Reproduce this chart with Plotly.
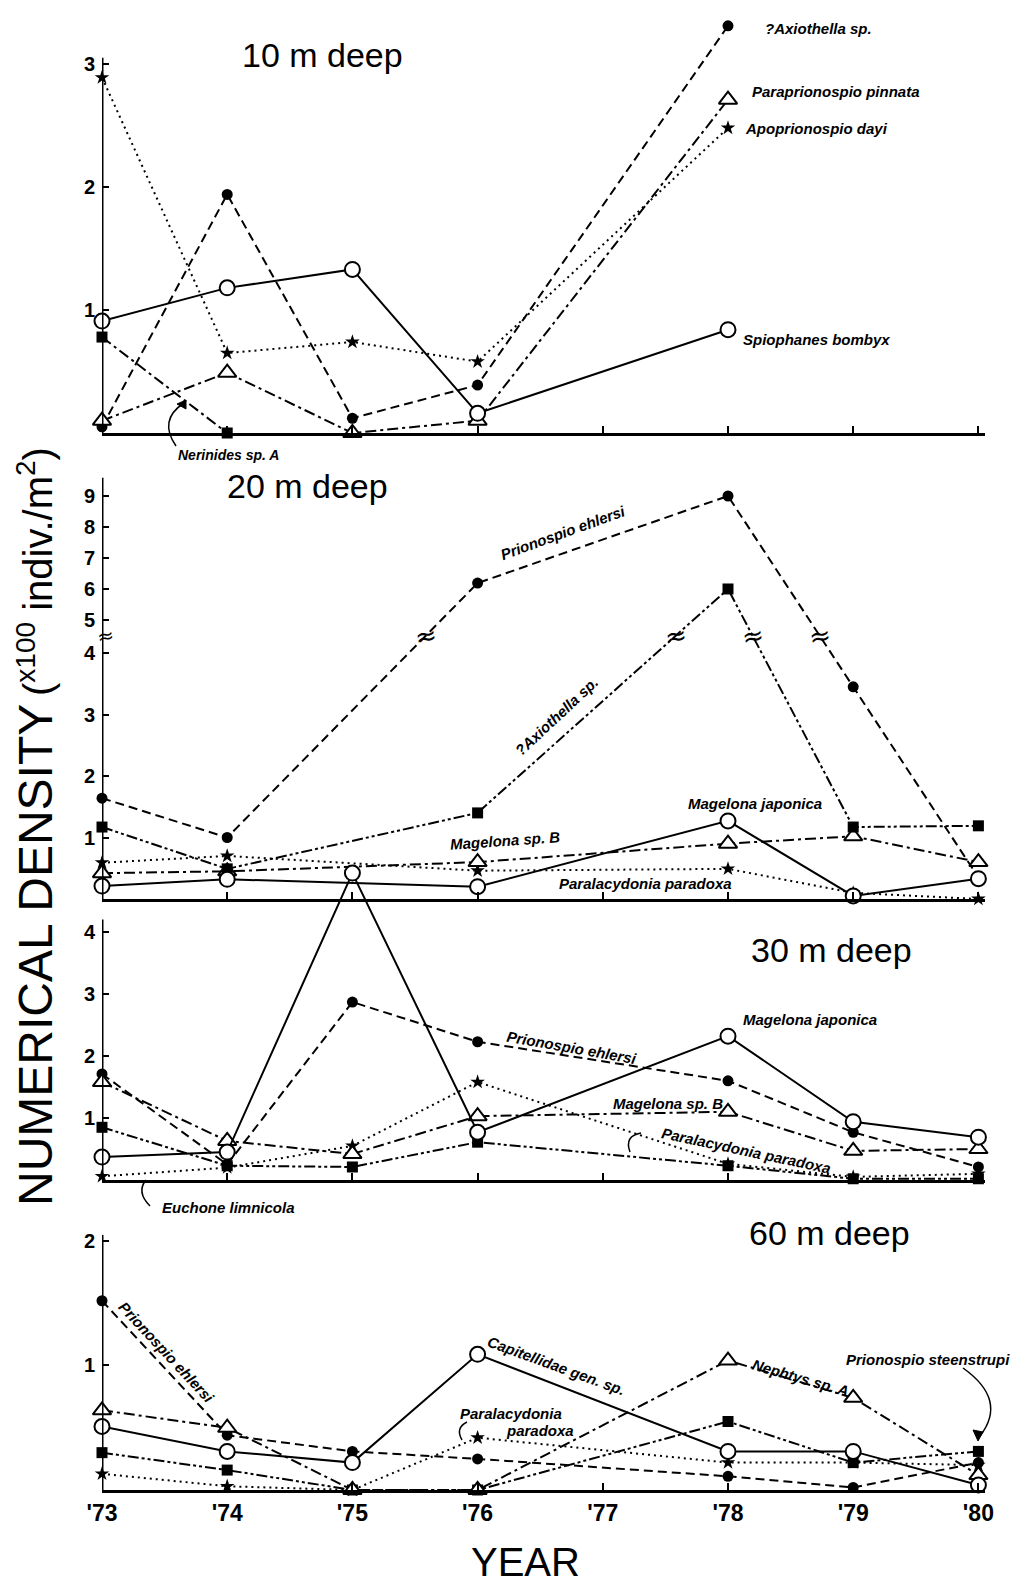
import plotly.graph_objects as go

W, H = 1025, 1584
OFF = 8  # default page body margin of the written html

# ---------------- data (x100 indiv./m2) ----------------
year_ticks = [73, 74, 75, 76, 77, 78, 79, 80]
year_labels = ["'73", "'74", "'75", "'76", "'77", "'78", "'79", "'80"]

# 10 m deep
years_10 = [73, 74, 75, 76, 78]
spiophanes_10 = [0.91, 1.18, 1.33, 0.16, 0.84]
axiothella_10 = [0.05, 1.94, 0.12, 0.39, 3.31]
apoprionospio_10 = [2.89, 0.65, 0.74, 0.58, 2.48]
paraprionospio_10 = [0.10, 0.49, 0.0, 0.10, 2.71]
years_nerinides_10 = [73, 74]
nerinides_10 = [0.78, 0.0]

# 20 m deep
years_20 = [73, 74, 76, 78, 79, 80]
prionospio_20 = [1.64, 1.00, 6.19, 9.0, 3.45, 0.35]
axiothella_20 = [1.17, 0.49, 1.40, 6.0, 1.17, 1.19]
paralacydonia_20 = [0.59, 0.70, 0.46, 0.49, 0.10, 0.0]
magelona_jap_20 = [0.21, 0.32, 0.20, 1.27, 0.05, 0.33]
magelona_b_20 = [0.42, 0.45, 0.60, 0.90, 1.02, 0.60]

# 30 m deep
years_30 = [73, 74, 75, 76, 78, 79, 80]
prionospio_30 = [1.71, 0.25, 2.87, 2.23, 1.60, 0.77, 0.21]
magelona_jap_30 = [0.37, 0.45, 4.95, 0.77, 2.32, 0.94, 0.69]
magelona_b_30 = [1.58, 0.63, 0.42, 1.03, 1.10, 0.47, 0.50]
paralacydonia_30 = [0.06, 0.20, 0.55, 1.58, 0.26, 0.05, 0.10]
euchone_30 = [0.85, 0.23, 0.21, 0.61, 0.23, 0.02, 0.02]

# 60 m deep
years_60 = [73, 74, 75, 76, 78, 79, 80]
prionospio_60 = [1.52, 0.44, 0.31, 0.25, 0.11, 0.02, 0.22]
capitellidae_60 = [0.51, 0.31, 0.22, 1.09, 0.31, 0.31, 0.04]
nephtys_60 = [0.64, 0.50, 0.0, 0.0, 1.04, 0.74, 0.12]
steenstrupi_60 = [0.30, 0.16, 0.0, 0.0, 0.55, 0.22, 0.31]
paralacydonia_60 = [0.13, 0.03, 0.0, 0.42, 0.22, 0.22, 0.20]

ticks_10 = [1, 2, 3]
ticks_20 = [1, 2, 3, 4, 5, 6, 7, 8, 9]
ticks_30 = [1, 2, 3, 4]
ticks_60 = [1, 2]

# ---------------- broken axis for 20 m ----------------
BREAK_T = 4.28


def t20(v):
    return v if v <= 4.5 else 4.537 + 0.504 * (v - 5)


# ---------------- geometry helpers (screen pixels) ----------------
X0_PX, X1_PX, YEAR_PX = 102, 985, 125.2
x_range = [73, 73 + (X1_PX - X0_PX) / YEAR_PX]


def ydomain(zero_px, unit_px, vmax):
    z = zero_px - OFF
    return [1 - z / H, 1 - (z - vmax * unit_px) / H]


panels = {
    1: dict(zero=433, unit=123.0, vmax=3.45, axtop=3.05),
    2: dict(zero=899, unit=61.5, vmax=6.9, axtop=6.85),
    3: dict(zero=1180, unit=62.0, vmax=5.15, axtop=4.2),
    4: dict(zero=1490, unit=124.5, vmax=2.05, axtop=2.05),
}


def px(x, y):
    return (x - OFF) / W, 1 - (y - OFF) / H


MK = {
    'ocircle': dict(symbol='circle', size=15, color='white', line=dict(color='black', width=2)),
    'fcircle': dict(symbol='circle', size=11, color='black', line=dict(color='black', width=0)),
    'star': dict(symbol='star', size=11, color='black', line=dict(color='black', width=0)),
    'tri': dict(symbol='triangle-up', size=16, color='white', line=dict(color='black', width=2)),
    'square': dict(symbol='square', size=11, color='black', line=dict(color='black', width=0)),
}
DASH = {
    'solid': 'solid',
    'dash': '9px,5px',
    'dot': '2px,4px',
    'dashdot': '11px,4px,3px,4px',
    'dashdotdot': '11px,3px,3px,3px,3px,3px',
}

fig = go.Figure()


def add(x, y, k, mk, dash, name):
    sfx = '' if k == 1 else str(k)
    fig.add_trace(go.Scatter(
        x=x, y=y, mode='lines+markers', name=name,
        xaxis='x' + sfx, yaxis='y' + sfx,
        line=dict(color='black', width=2, dash=DASH[dash]),
        marker=MK[mk], cliponaxis=False, showlegend=False,
        hoverinfo='skip'))


# panel 1 (10 m)
add(years_nerinides_10, nerinides_10, 1, 'square', 'dashdot', 'Nerinides sp. A')
add(years_10, apoprionospio_10, 1, 'star', 'dot', 'Apoprionospio dayi')
add(years_10, axiothella_10, 1, 'fcircle', 'dash', '?Axiothella sp.')
add(years_10, paraprionospio_10, 1, 'tri', 'dashdot', 'Paraprionospio pinnata')
add(years_10, spiophanes_10, 1, 'ocircle', 'solid', 'Spiophanes bombyx')

# panel 2 (20 m)
add(years_20, [t20(v) for v in paralacydonia_20], 2, 'star', 'dot', 'Paralacydonia paradoxa')
add(years_20, [t20(v) for v in prionospio_20], 2, 'fcircle', 'dash', 'Prionospio ehlersi')
add(years_20, [t20(v) for v in magelona_b_20], 2, 'tri', 'dashdot', 'Magelona sp. B')
add(years_20, [t20(v) for v in axiothella_20], 2, 'square', 'dashdotdot', '?Axiothella sp.')
add(years_20, [t20(v) for v in magelona_jap_20], 2, 'ocircle', 'solid', 'Magelona japonica')

# panel 3 (30 m)
add(years_30, euchone_30, 3, 'square', 'dashdotdot', 'Euchone limnicola')
add(years_30, paralacydonia_30, 3, 'star', 'dot', 'Paralacydonia paradoxa')
add(years_30, prionospio_30, 3, 'fcircle', 'dash', 'Prionospio ehlersi')
add(years_30, magelona_b_30, 3, 'tri', 'dashdot', 'Magelona sp. B')
add(years_30, magelona_jap_30, 3, 'ocircle', 'solid', 'Magelona japonica')

# panel 4 (60 m)
add(years_60, paralacydonia_60, 4, 'star', 'dot', 'Paralacydonia paradoxa')
add(years_60, steenstrupi_60, 4, 'square', 'dashdotdot', 'Prionospio steenstrupi')
add(years_60, prionospio_60, 4, 'fcircle', 'dash', 'Prionospio ehlersi')
add(years_60, nephtys_60, 4, 'tri', 'dashdot', 'Nephtys sp. A')
add(years_60, capitellidae_60, 4, 'ocircle', 'solid', 'Capitellidae gen. sp.')

# ---------------- axes ----------------
TICKFONT = dict(family='Liberation Sans', size=20, color='black', weight='bold')
layout = dict(template='none', width=W, height=H, autosize=False,
              margin=dict(l=0, r=0, t=0, b=0, pad=0),
              plot_bgcolor='rgba(0,0,0,0)', paper_bgcolor='white', showlegend=False)
ytick = {1: ticks_10, 2: ticks_20, 3: ticks_30, 4: ticks_60}
for k, p in panels.items():
    sfx = '' if k == 1 else str(k)
    layout['xaxis' + sfx] = dict(
        domain=[(X0_PX - OFF) / W, (X1_PX - OFF) / W], range=x_range, anchor='y' + sfx,
        automargin=False,
        showline=True, linewidth=3, linecolor='black', ticks='inside', ticklen=7,
        tickwidth=2, tickcolor='black', tickvals=year_ticks, ticktext=year_labels,
        showticklabels=(k == 4),
        tickfont=dict(family='Liberation Sans', size=23, color='black', weight='bold'),
        showgrid=False, zeroline=False, fixedrange=True)
    tv = ytick[k]
    tpos = [t20(v) for v in tv] if k == 2 else tv
    layout['yaxis' + sfx] = dict(
        domain=ydomain(p['zero'], p['unit'], p['vmax']), range=[0, p['vmax']],
        anchor='x' + sfx, automargin=False, showline=False, ticks='inside', ticklen=7,
        tickwidth=2, tickcolor='black', tickvals=tpos, ticktext=[str(v) for v in tv],
        ticklabelstandoff=6,
        tickfont=TICKFONT, showgrid=False, zeroline=False, fixedrange=True)
fig.update_layout(**layout)

shapes = []
for k, p in panels.items():
    sfx = '' if k == 1 else str(k)
    shapes.append(dict(type='line', xref='x' + sfx, yref='y' + sfx, x0=73, x1=73,
                       y0=0, y1=p['axtop'], line=dict(color='black', width=3)))


def curve(p0, c, p1, width=1.5):
    a, b, e = px(*p0), px(*c), px(*p1)
    shapes.append(dict(type='path', xref='paper', yref='paper',
                       path=f"M {a[0]},{a[1]} Q {b[0]},{b[1]} {e[0]},{e[1]}",
                       line=dict(color='black', width=width)))


def head(tip, l, r):
    a, b, c = px(*tip), px(*l), px(*r)
    shapes.append(dict(type='path', xref='paper', yref='paper',
                       path=f"M {a[0]},{a[1]} L {b[0]},{b[1]} L {c[0]},{c[1]} Z",
                       fillcolor='black', line=dict(color='black', width=1)))


curve((176, 446), (158, 420), (184, 403))
head((186, 400), (177, 404), (186, 409))
curve((150, 1206), (136, 1192), (146, 1180))
curve((963, 1368), (1008, 1400), (980, 1436))
head((978, 1441), (973, 1430), (983, 1432))
curve((641, 1133), (624, 1136), (630, 1152))
curve((467, 1422), (455, 1428), (462, 1440))
fig.update_layout(shapes=shapes)

# ---------------- annotations ----------------
anns = []
LAB = dict(family='Liberation Sans', size=15, color='black', weight='bold', style='italic')


def lab(text, x, y, angle=0, xanchor='center', size=15):
    X, Y = px(x, y)
    f = dict(LAB)
    f['size'] = size
    anns.append(dict(text=text, x=X, y=Y, xref='paper', yref='paper', showarrow=False,
                     xanchor=xanchor, yanchor='middle', textangle=angle, font=f))


def title(text, x, y, size=34):
    X, Y = px(x, y)
    anns.append(dict(text=text, x=X, y=Y, xref='paper', yref='paper', showarrow=False,
                     xanchor='center', yanchor='middle',
                     font=dict(family='Liberation Sans', size=size, color='black')))


title('10 m deep', 322, 55)
title('20 m deep', 307, 486)
title('30 m deep', 831, 950)
title('60 m deep', 829, 1233)

# 10 m
lab('?Axiothella sp.', 763, 28, xanchor='left')
lab('Paraprionospio pinnata', 750, 92, xanchor='left')
lab('Apoprionospio dayi', 743, 128, xanchor='left')
lab('Spiophanes bombyx', 741, 340, xanchor='left')
lab('Nerinides sp. A', 228, 455, size=14)
# 20 m
lab('Prionospio ehlersi', 563, 532, angle=-20)
lab('?Axiothella sp.', 556, 716, angle=-43)
lab('Magelona japonica', 755, 803)
lab('Magelona sp. B', 505, 840, angle=-4)
lab('Paralacydonia paradoxa', 645, 884)
# 30 m
lab('Magelona japonica', 810, 1020)
lab('Prionospio ehlersi', 572, 1047, angle=10)
lab('Magelona sp. B', 668, 1103)
lab('Paralacydonia paradoxa', 746, 1150, angle=12)
lab('Euchone limnicola', 228, 1207)
# 60 m
lab('Prionospio ehlersi', 167, 1352, angle=47)
lab('Capitellidae gen. sp.', 556, 1365, angle=20)
lab('Paralacydonia', 511, 1413)
lab('paradoxa', 540, 1430)
lab('Nephtys sp. A', 800, 1377, angle=16)
lab('Prionospio steenstrupi', 928, 1359)

# break marks on the 20 m axis and on lines crossing the break
anns.append(dict(text='≈', x=73, y=BREAK_T, xref='x2', yref='y2', showarrow=False,
                 font=dict(family='DejaVu Sans', size=20, color='black'),
                 xanchor='center', yanchor='middle', xshift=3, textangle=-10))
for series in (prionospio_20, axiothella_20):
    tv = [t20(v) for v in series]
    for i in range(len(tv) - 1):
        a, b = tv[i], tv[i + 1]
        if (a - BREAK_T) * (b - BREAK_T) < 0:
            f = (BREAK_T - a) / (b - a)
            xc = years_20[i] + f * (years_20[i + 1] - years_20[i])
            anns.append(dict(text='≈', x=xc, y=BREAK_T, xref='x2', yref='y2', showarrow=False,
                             font=dict(family='DejaVu Sans', size=26, color='black'),
                             xanchor='center', yanchor='middle', textangle=-10))

# axis titles
X, Y = px(35, 955)
anns.append(dict(text='NUMERICAL DENSITY', x=X, y=Y, xref='paper', yref='paper', showarrow=False,
                 textangle=-90, xanchor='center', yanchor='middle',
                 font=dict(family='Liberation Sans', size=48, color='black')))
X, Y = px(35, 572)
anns.append(dict(text='(<sup>x100</sup> indiv./m<sup>2</sup>)', x=X, y=Y, xref='paper', yref='paper',
                 showarrow=False, textangle=-90, xanchor='center', yanchor='middle',
                 font=dict(family='Liberation Sans', size=40, color='black')))
X, Y = px(525, 1562)
anns.append(dict(text='YEAR', x=X, y=Y, xref='paper', yref='paper', showarrow=False,
                 xanchor='center', yanchor='middle',
                 font=dict(family='Liberation Sans', size=40, color='black')))

fig.update_layout(annotations=anns)
fig.write_html('out.html')
